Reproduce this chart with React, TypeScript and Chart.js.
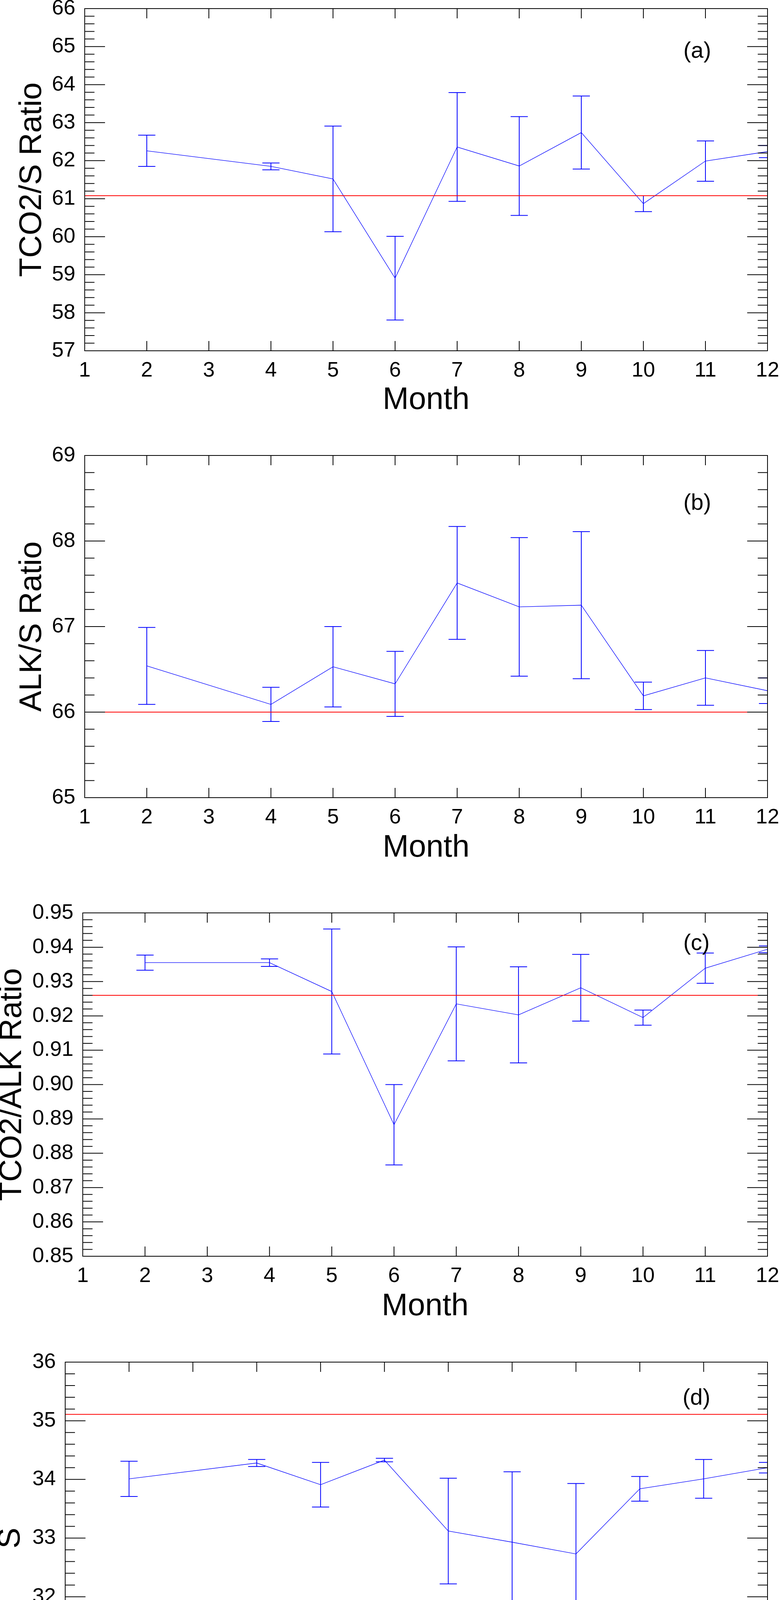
import { useEffect, useRef } from 'react'
import { Chart, registerables } from 'chart.js'

Chart.register(...registerables)

// months with samples (no March)
const months = [2, 4, 5, 6, 7, 8, 9, 10, 11, 12]

// (a) TCO2/S
const tco2sMean = [62.26, 61.85, 61.52, 58.91, 62.36, 61.86, 62.74, 60.87, 61.99, 62.24]
const tco2sErr = [0.41, 0.09, 1.39, 1.1, 1.43, 1.3, 0.96, 0.21, 0.53, 0.16]
const tco2sRef = 61.08

// (b) ALK/S
const alksMean = [66.54, 66.09, 66.53, 66.33, 67.51, 67.23, 67.25, 66.19, 66.4, 66.25]
const alksErr = [0.45, 0.2, 0.47, 0.38, 0.66, 0.81, 0.86, 0.16, 0.32, 0.15]
const alksRef = 66.0

// (c) TCO2/ALK
const tco2alkMean = [0.9355, 0.9355, 0.9271, 0.8883, 0.9235, 0.9203, 0.9282, 0.9195, 0.9339, 0.9394]
const tco2alkErr = [0.0022, 0.0011, 0.0182, 0.0117, 0.0166, 0.014, 0.0097, 0.0022, 0.0044, 0.001]
const tco2alkRef = 0.926

// (d) salinity
const salMean = [34.01, 34.28, 33.91, 34.33, 33.12, 32.93, 32.73, 33.84, 34.01, 34.2]
const salErr = [0.3, 0.06, 0.38, 0.03, 0.9, 1.2, 1.2, 0.21, 0.33, 0.09]
const salRef = 35.11

const FONT = "'Liberation Sans', Arial, Helvetica, sans-serif"

interface PanelSpec {
  title: string
  tag: string
  mean: number[]
  err: number[]
  ref: number
  yMin: number
  yMax: number
  yStep: number
  decimals: number
  // layout (page px)
  canvasTop: number
  canvasBottom: number
  plotLeft: number
  plotTop: number
  plotBottom: number
  titleX: number
  monthY: number
  tickPad: number
  tagX: number
  tagY: number
}

const panels: PanelSpec[] = [
  {
    title: 'TCO2/S Ratio', tag: '(a)', mean: tco2sMean, err: tco2sErr, ref: tco2sRef,
    yMin: 57, yMax: 66, yStep: 1, decimals: 0,
    canvasTop: 0, canvasBottom: 1100, plotLeft: 217, plotTop: 22, plotBottom: 898,
    titleX: 83, monthY: 1025, tickPad: 19, tagX: 1786, tagY: 132
  },
  {
    title: 'ALK/S Ratio', tag: '(b)', mean: alksMean, err: alksErr, ref: alksRef,
    yMin: 65, yMax: 69, yStep: 1, decimals: 0,
    canvasTop: 1100, canvasBottom: 2260, plotLeft: 217, plotTop: 1166, plotBottom: 2042,
    titleX: 83, monthY: 2171, tickPad: 19, tagX: 1786, tagY: 1289
  },
  {
    title: 'TCO2/ALK Ratio', tag: '(c)', mean: tco2alkMean, err: tco2alkErr, ref: tco2alkRef,
    yMin: 0.85, yMax: 0.95, yStep: 0.01, decimals: 2,
    canvasTop: 2260, canvasBottom: 3420, plotLeft: 212, plotTop: 2337, plotBottom: 3216,
    titleX: 32, monthY: 3345, tickPad: 19, tagX: 1784, tagY: 2416
  },
  {
    title: 'S', tag: '(d)', mean: salMean, err: salErr, ref: salRef,
    yMin: 30, yMax: 36, yStep: 1, decimals: 0,
    canvasTop: 3420, canvasBottom: 4552, plotLeft: 167, plotTop: 3487, plotBottom: 4388,
    titleX: 28, monthY: 4521, tickPad: 21, tagX: 1784, tagY: 3580
  }
]

function makeFramePlugin(spec: PanelSpec) {
  return {
    id: 'frame',
    beforeDatasetsDraw(chart: any) {
      const { ctx, chartArea: a, scales } = chart
      const x = scales.x
      const y = scales.y
      ctx.save()
      ctx.beginPath()
      ctx.rect(a.left, a.top, a.right - a.left, a.bottom - a.top)
      ctx.clip()
      ctx.strokeStyle = '#0000ff'
      ctx.lineWidth = 2
      months.forEach((m, i) => {
        const px = x.getPixelForValue(m)
        const top = y.getPixelForValue(spec.mean[i] + spec.err[i])
        const bot = y.getPixelForValue(spec.mean[i] - spec.err[i])
        ctx.beginPath()
        ctx.moveTo(px, top)
        ctx.lineTo(px, bot)
        ctx.moveTo(px - 22, top)
        ctx.lineTo(px + 22, top)
        ctx.moveTo(px - 22, bot)
        ctx.lineTo(px + 22, bot)
        ctx.stroke()
      })
      ctx.restore()
    },
    afterDraw(chart: any) {
      const { ctx, chartArea: a, scales } = chart
      const x = scales.x
      const y = scales.y
      ctx.save()
      ctx.strokeStyle = '#000'
      ctx.lineWidth = 2
      ctx.strokeRect(a.left, a.top, a.right - a.left, a.bottom - a.top)

      // inward major/minor ticks on both y sides, major ticks on top/bottom
      ctx.beginPath()
      const yt: number[] = y.ticks.map((t: any) => t.value)
      yt.forEach((v) => {
        const py = y.getPixelForValue(v)
        ctx.moveTo(a.left, py)
        ctx.lineTo(a.left + 52, py)
        ctx.moveTo(a.right, py)
        ctx.lineTo(a.right - 52, py)
      })
      for (let i = 0; i < yt.length - 1; i++) {
        for (let k = 1; k < 5; k++) {
          const py = y.getPixelForValue(yt[i] + ((yt[i + 1] - yt[i]) * k) / 5)
          ctx.moveTo(a.left, py)
          ctx.lineTo(a.left + 25, py)
          ctx.moveTo(a.right, py)
          ctx.lineTo(a.right - 25, py)
        }
      }
      x.ticks.forEach((t: any) => {
        const px = x.getPixelForValue(t.value)
        ctx.moveTo(px, a.bottom)
        ctx.lineTo(px, a.bottom - 25)
        ctx.moveTo(px, a.top)
        ctx.lineTo(px, a.top + 25)
      })
      ctx.stroke()

      ctx.fillStyle = '#000'
      ctx.font = `58px ${FONT}`
      ctx.textAlign = 'center'
      ctx.textBaseline = 'middle'
      ctx.fillText(spec.tag, spec.tagX, spec.tagY - spec.canvasTop)
      ctx.restore()
    }
  }
}

const Panel = ({ spec }: { spec: PanelSpec }) => {
  const canvasRef = useRef<HTMLCanvasElement>(null)
  const h = spec.canvasBottom - spec.canvasTop

  useEffect(() => {
    if (!canvasRef.current) return
    const chart = new Chart(canvasRef.current, {
      type: 'line',
      data: {
        datasets: [
          {
            label: 'ref',
            data: [
              { x: 1, y: spec.ref },
              { x: 12, y: spec.ref }
            ],
            borderColor: '#ff0000',
            borderWidth: 2,
            pointRadius: 0,
            order: 0
          },
          {
            label: spec.title,
            data: months.map((m, i) => ({ x: m, y: spec.mean[i] })),
            borderColor: '#0000ff',
            borderWidth: 1.3,
            pointRadius: 0,
            tension: 0,
            order: 1
          }
        ]
      },
      options: {
        animation: false,
        responsive: false,
        devicePixelRatio: 1,
        events: [],
        layout: {
          padding: { left: 0, right: 32, top: spec.plotTop - spec.canvasTop, bottom: 0 }
        },
        plugins: {
          legend: { display: false },
          tooltip: { enabled: false }
        },
        scales: {
          x: {
            type: 'linear',
            min: 1,
            max: 12,
            grid: { display: false, drawTicks: false },
            border: { display: false },
            ticks: {
              stepSize: 1,
              autoSkip: false,
              maxRotation: 0,
              padding: spec.tickPad,
              color: '#000',
              font: { family: FONT, size: 54, lineHeight: 1.2 }
            },
            title: {
              display: true,
              text: 'Month',
              color: '#000',
              font: { family: FONT, size: 80, lineHeight: 0.5 },
              padding: { top: 0, bottom: spec.canvasBottom - spec.monthY - 20 }
            },
            afterFit: (scale: any) => {
              scale.height = spec.canvasBottom - spec.plotBottom
              scale.paddingLeft = 0
              scale.paddingRight = 0
              scale.paddingTop = 0
              scale.paddingBottom = 0
            }
          },
          y: {
            type: 'linear',
            min: spec.yMin,
            max: spec.yMax,
            grid: { display: false, drawTicks: false },
            border: { display: false },
            ticks: {
              stepSize: spec.yStep,
              autoSkip: false,
              padding: 24,
              color: '#000',
              font: { family: FONT, size: 54, lineHeight: 1.2 },
              callback: (v: any) => Number(v).toFixed(spec.decimals)
            },
            title: {
              display: true,
              text: spec.title,
              color: '#000',
              font: { family: FONT, size: 80, lineHeight: 0.5 },
              padding: { top: spec.titleX - 20, bottom: 0 }
            },
            afterFit: (scale: any) => {
              scale.width = spec.plotLeft
              scale.paddingLeft = 0
              scale.paddingRight = 0
              scale.paddingTop = 0
              scale.paddingBottom = 0
            }
          }
        }
      },
      plugins: [makeFramePlugin(spec)]
    } as any)

    return () => {
      chart.destroy()
    }
  }, [spec])

  return (
    <canvas
      ref={canvasRef}
      width={1998}
      height={h}
      style={{ position: 'absolute', left: 0, top: spec.canvasTop, width: 1998, height: h }}
    />
  )
}

const App = () => {
  return (
    <div
      style={{
        position: 'absolute',
        left: 0,
        top: 0,
        width: 1998,
        height: 4552,
        overflow: 'hidden',
        background: '#fff'
      }}
    >
      {panels.map((p) => (
        <Panel key={p.tag} spec={p} />
      ))}
    </div>
  )
}

export default App
